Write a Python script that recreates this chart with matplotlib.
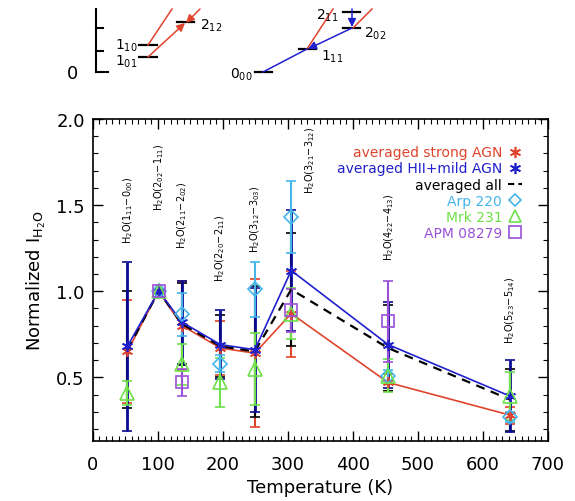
import numpy as np
import matplotlib
matplotlib.use('Agg')
import matplotlib.pyplot as plt
from matplotlib.lines import Line2D

plt.rcParams['font.family'] = ['DejaVu Sans']
plt.rcParams['mathtext.fontset'] = 'dejavusans'

# ---------------------------
# 資料
# ---------------------------
temp = [53, 101, 137, 196, 249, 305, 454, 642]
lines_lab = [r'H$_2$O(1$_{11}$$-$0$_{00}$)', r'H$_2$O(2$_{02}$$-$1$_{11}$)',
             r'H$_2$O(2$_{11}$$-$2$_{02}$)', r'H$_2$O(2$_{20}$$-$2$_{11}$)',
             r'H$_2$O(3$_{12}$$-$3$_{03}$)', r'H$_2$O(3$_{21}$$-$3$_{12}$)',
             r'H$_2$O(4$_{22}$$-$4$_{13}$)', r'H$_2$O(5$_{23}$$-$5$_{14}$)']
lab_x = [54, 102, 138, 196, 250, 334, 455, 642]
lab_y = [1.28, 1.47, 1.25, 1.06, 1.23, 1.57, 1.18, 0.70]

strong_agn = [0.65, 1.0, 0.80, 0.67, 0.64, 0.87, 0.47, 0.28]
strong_err = [0.30, 0.0, 0.26, 0.155, 0.43, 0.25, 0.05, 0.05]
mild_agn = [0.68, 1.0, 0.82, 0.69, 0.66, 1.12, 0.69, 0.39]
mild_err = [0.49, 0.0, 0.24, 0.20, 0.36, 0.35, 0.25, 0.21]
all_avg = [0.66, 1.0, 0.81, 0.68, 0.65, 1.01, 0.67, 0.37]
all_err = [0.34, 0.0, 0.24, 0.18, 0.38, 0.33, 0.25, 0.18]
arp220 = [np.nan, 1.0, 0.865, 0.58, 1.01, 1.43, 0.51, 0.27]
arp_err = [0, 0.0, 0.125, 0.05, 0.16, 0.21, 0.03, 0.03]
mrk231 = [0.41, 1.0, 0.575, 0.47, 0.55, 0.87, 0.51, 0.39]
mrk_err = [0.07, 0.0, 0.12, 0.14, 0.21, 0.15, 0.095, 0.14]
apm = [np.nan, 1.0, 0.47, np.nan, np.nan, 0.89, 0.825, np.nan]
apm_err = [0, 0.0, 0.08, 0, 0, 0.125, 0.235, 0]

c_red = '#e0442c'
c_blue = '#2020cc'
c_navy = '#0a0a90'
c_cyan = '#45b5ea'
c_green = '#6ee04a'
c_purple = '#9a50d8'

fig = plt.figure(figsize=(5.75, 5.02), dpi=100)

# ---------------------------
# 上方能階示意圖（像素座標）
# ---------------------------
ax0 = fig.add_axes([0, 0, 1, 1])
ax0.set_xlim(0, 575)
ax0.set_ylim(502, 0)
ax0.axis('off')

ax0.plot([96, 96], [10, 73], 'k-', lw=1.5)
for ty, tl in zip([29, 52, 73], [7, 7, 12]):
    ax0.plot([96, 96 + tl], [ty, ty], 'k-', lw=1.5)
ax0.text(72, 74, '0', fontsize=13, ha='center', va='center')

levels = {'1_{10}': (139, 157, 46), '1_{01}': (139, 157, 58), '2_{12}': (177, 194, 23),
          '0_{00}': (255, 272, 73), '1_{11}': (299, 316, 50), '2_{02}': (343, 360, 29),
          '2_{11}': (343, 360, 13)}
for k, (x1, x2, ly) in levels.items():
    ax0.plot([x1, x2], [ly, ly], 'k-', lw=1.6)
lab_pos = {'1_{10}': (115, 46), '1_{01}': (115, 62), '2_{12}': (200, 26),
           '0_{00}': (230, 75), '1_{11}': (321, 57), '2_{02}': (364, 34), '2_{11}': (316, 16)}
for k, (lx, ly) in lab_pos.items():
    n, s = k.split('_')
    ax0.text(lx, ly, rf'{n}$_{s}$', fontsize=10, ha='left', va='center')

def arrow(p0, p1, color, head=True):
    if head:
        ax0.annotate('', xy=p1, xytext=p0,
                     arrowprops=dict(arrowstyle='-|>', color=color, lw=1.1,
                                     mutation_scale=12, shrinkA=0, shrinkB=0))
    else:
        ax0.plot([p0[0], p1[0]], [p0[1], p1[1]], color=color, lw=1.1)

arrow((148, 46), (172, 10), c_red, head=False)
arrow((148, 58), (185, 24), c_red)
arrow((200, 10), (186, 24), c_red)
arrow((307, 50), (333, 10), c_red, head=False)
arrow((353, 29), (372, 10), c_red, head=False)
arrow((263, 73), (307, 50), c_blue, head=False)
arrow((352, 29), (308, 50), c_blue)
arrow((352, 10), (352, 28), c_blue)

# ---------------------------
# 主圖
# ---------------------------
ax = fig.add_axes([0.1617, 0.1195, 0.7913, 0.6415])

def ebar(y, e, color, lw=1.5):
    ax.errorbar(temp, y, yerr=e, fmt='none', ecolor=color, elinewidth=lw,
                capsize=3.5, capthick=1.2, zorder=2)

ebar(strong_agn, strong_err, c_red)
ebar(all_avg, all_err, 'k')
ebar(mild_agn, mild_err, c_navy, lw=2.0)
ebar(mrk231, mrk_err, c_green)
ebar(arp220, arp_err, c_cyan)
ebar(apm, apm_err, c_purple)

ax.plot(temp, strong_agn, '-', color=c_red, lw=1.2, marker=(6, 2, 0), ms=8, mew=1.2, zorder=3)
ax.plot(temp, mild_agn, '-', color=c_blue, lw=1.2, marker=(6, 2, 0), ms=8, mew=1.2, zorder=4)
ax.plot(temp, all_avg, '--', color='k', lw=1.6, dashes=(4, 3), zorder=3)
ax.plot(temp, arp220, 'D', mfc='none', mec=c_cyan, ms=7, mew=1.2, zorder=5)
ax.plot(temp, mrk231, '^', mfc='none', mec=c_green, ms=10, mew=1.2, zorder=5)
ax.plot(temp, apm, 's', mfc='none', mec=c_purple, ms=9, mew=1.2, zorder=5)

for t, lb, yl in zip(lab_x, lines_lab, lab_y):
    ax.text(t, yl, lb, rotation=90, ha='center', va='bottom', fontsize=7)

ax.set_xlim(0, 700)
ax.set_ylim(0.13, 2.0)
ax.set_xticks(np.arange(0, 701, 100))
ax.set_xticks(np.arange(0, 701, 10), minor=True)
ax.set_yticks([0.5, 1.0, 1.5, 2.0])
ax.set_yticks(np.arange(0.2, 2.0, 0.1), minor=True)
ax.tick_params(which='both', direction='in', top=True, right=True, labelsize=13)
ax.tick_params(which='major', length=7, width=1)
ax.tick_params(which='minor', length=3.5, width=0.8)
ax.tick_params(axis='x', pad=10)
ax.tick_params(axis='y', pad=6)
for sp in ax.spines.values():
    sp.set_linewidth(1.2)
ax.set_xlabel('Temperature (K)', fontsize=13, labelpad=4)
ax.set_ylabel(r'Normalized I$_{\rm H_2O}$', fontsize=13, labelpad=6)

handles = [
    Line2D([], [], ls='none', marker=(6, 2, 0), color=c_red, ms=8, mew=1.2),
    Line2D([], [], ls='none', marker=(6, 2, 0), color=c_blue, ms=8, mew=1.2),
    Line2D([], [], ls='--', color='k', lw=1.5, dashes=(3, 2)),
    Line2D([], [], ls='none', marker='D', mfc='none', mec=c_cyan, ms=6.5, mew=1.2),
    Line2D([], [], ls='none', marker='^', mfc='none', mec=c_green, ms=8, mew=1.2),
    Line2D([], [], ls='none', marker='s', mfc='none', mec=c_purple, ms=8, mew=1.2),
]
names = ['averaged strong AGN', 'averaged HII+mild AGN', 'averaged all',
         'Arp 220', 'Mrk 231', 'APM 08279']
leg = ax.legend(handles, names, loc='upper right', markerfirst=False, frameon=False,
                fontsize=10, handlelength=1.0, handletextpad=0.4, labelspacing=0.15,
                numpoints=1, borderaxespad=1.5)
for txt, col in zip(leg.get_texts(), [c_red, c_blue, 'k', c_cyan, c_green, c_purple]):
    txt.set_color(col)

fig.savefig('out.png', dpi=100)
